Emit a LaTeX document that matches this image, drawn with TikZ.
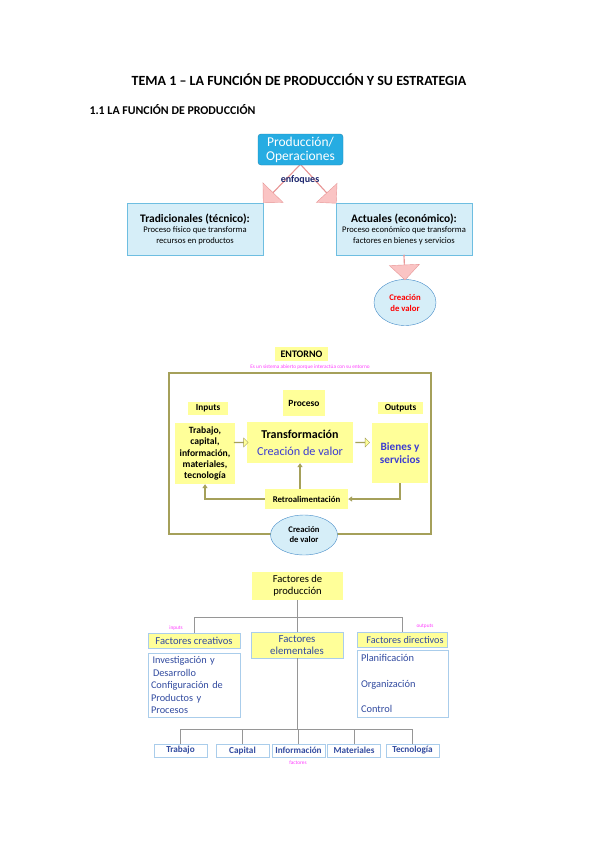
\documentclass[tikz,border=0pt]{standalone}
\usepackage{fontspec}
\setmainfont{Carlito}
\usetikzlibrary{shapes.geometric,shapes.arrows,arrows.meta}

\definecolor{prodcyan}{RGB}{38,172,226}
\definecolor{pinkfill}{RGB}{250,196,196}
\definecolor{pinkline}{RGB}{232,150,150}
\definecolor{skyfill}{RGB}{214,238,248}
\definecolor{skyline}{RGB}{110,190,225}
\definecolor{ovalline}{RGB}{70,140,200}
\definecolor{notey}{RGB}{255,255,153}
\definecolor{olive}{RGB}{165,160,90}
\definecolor{valblue}{RGB}{60,60,210}
\definecolor{navy}{RGB}{30,40,110}
\definecolor{factblue}{RGB}{50,75,160}
\definecolor{notepink}{RGB}{255,60,255}
\definecolor{treegray}{RGB}{150,150,150}
\definecolor{listline}{RGB}{170,205,235}

\pgfdeclarelayer{background}
\pgfsetlayers{background,main}

\newcommand{\fs}[2]{\fontsize{#1}{#2}\selectfont}

\begin{document}
\begin{tikzpicture}[x=1pt, y=-1pt,
    prodbox/.style={draw=prodcyan!80!black, fill=prodcyan, rounded corners=3pt, text=white,
      minimum width=85, minimum height=31, inner sep=1pt, align=center, font=\fs{13.5}{14}},
    skybox/.style={draw=skyline, fill=skyfill, minimum width=136, minimum height=52,
      inner sep=1pt, align=center, font=\fs{8.6}{10.5}},
    pinkarrow/.style={single arrow, draw=pinkline, fill=pinkfill, inner sep=0pt,
      single arrow head extend=8.5pt, minimum width=28, sloped, allow upside down},
    oval/.style={ellipse, draw=ovalline, fill=skyfill, inner sep=0pt, align=center},
    note/.style={fill=notey, inner sep=1pt, align=center},
    feed/.style={draw=olive, line width=2pt, -{Triangle[length=4pt,width=5pt]}},
    hollow/.style={single arrow, draw=olive, fill=notey, inner sep=0pt, minimum width=9,
      single arrow head extend=2.5pt, minimum height=14},
    tiny/.style={text=notepink, font=\fs{5.3}{6}},
    tree/.style={draw=treegray, line width=0.9pt},
    factor/.style={fill=notey, draw=listline, inner sep=1pt, text=factblue, align=center},
    listbox/.style={draw=listline, fill=white, inner sep=3pt, text=factblue, align=left},
    elem/.style={draw=listline, fill=white, inner sep=0pt, minimum width=53, minimum height=13,
      text=factblue, font=\bfseries\fs{9.2}{10}}]
\useasboundingbox (0,0) rectangle (599,848);
\begin{pgfonlayer}{background}
  \fill[white] (0,0) rectangle (599,848);
\end{pgfonlayer}

% headings
\node[font=\bfseries\fs{14}{16}] (title) at (299,80) {TEMA 1 – LA FUNCIÓN DE PRODUCCIÓN Y SU ESTRATEGIA};
\node[anchor=west, font=\bfseries\fs{11.9}{13}] (sec) at (86,110) {1.1 LA FUNCIÓN DE PRODUCCIÓN};

% enfoques
\node[prodbox] (prod) at (300.5,149.5) {Producción/\\Operaciones};
\node[skybox] (trad) at (195,229) {{\bfseries\fs{11.5}{14}Tradicionales (técnico):}\\Proceso físico que transforma\\recursos en productos};
\node[skybox] (act) at (404,229) {{\bfseries\fs{11.5}{14}Actuales (económico):}\\Proceso económico que transforma\\factores en bienes y servicios};
\node[oval, minimum width=62, minimum height=46, text=red, font=\bfseries\fs{8.7}{11}] (cval) at (405,302.5) {Creación\\de valor};
\begin{pgfonlayer}{background}
  \path ([xshift=2pt,yshift=3pt]prod.south) -- (trad.north east) node[pinkarrow, midway, minimum height=56] (arl) {};
  \path ([xshift=-2pt,yshift=3pt]prod.south) -- (act.north west) node[pinkarrow, midway, minimum height=56] (arr) {};
\end{pgfonlayer}
\path (act.south) -- (cval.north) node[pinkarrow, midway, minimum height=25, minimum width=30,
  single arrow head extend=8pt] (ard) {};
\node[text=navy, font=\bfseries\fs{10}{11}] (enf) at (300,180) {enfoques};

% sistema
\node[draw=olive, line width=2pt, minimum width=262, minimum height=161] (frame) at (300,453.5) {};
\node[note, minimum width=53, minimum height=14, font=\bfseries\fs{10}{11}] (entorno) at (301.5,354) {ENTORNO};
\node[tiny] (abierto) at (310,367) {Es un sistema abierto porque interactúa con su entorno};
\node[note, minimum width=42, minimum height=26, font=\bfseries\fs{9.5}{10}] (proc) at (304,403) {Proceso};
\node[note, minimum width=40, minimum height=13, font=\bfseries\fs{9.3}{10}] (inlab) at (208,408.5) {Inputs};
\node[note, minimum width=45, minimum height=12, font=\bfseries\fs{9.3}{10}] (outlab) at (400.5,408) {Outputs};
\node[note, minimum width=60, minimum height=61, inner sep=0pt, font=\bfseries\fs{9.6}{11.4}] (inp) at (205,453.5) {Trabajo,\\capital,\\información,\\materiales,\\tecnología};
\node[note, minimum width=106, minimum height=41] (trans) at (300,442.5) {{\bfseries\fs{12}{13}Transformación}\\[5pt]{\color{valblue}\fs{12.2}{13}Creación de valor}};
\node[note, minimum width=56, minimum height=60, text=valblue, font=\bfseries\fs{11.2}{13}] (outc) at (400,453) {Bienes y\\servicios};
\node[note, minimum width=83, minimum height=20, font=\bfseries\fs{8.8}{10}] (retro) at (306.5,499) {Retroalimentación};
\path (inp.east |- trans.west) -- (trans.west) node[hollow, midway, sloped] (ain) {};
\path (trans.east) -- (outc.west |- trans.east) node[hollow, midway, sloped] (aout) {};
\draw[feed] (outc.south) |- (retro.east);
\draw[feed] (retro.west) -| (inp.south);
\draw[feed] (trans.south |- retro.north) -- (trans.south);
\node[oval, minimum width=67, minimum height=40, font=\bfseries\fs{8.6}{10}] (cval2) at (304,535) {Creación\\de valor};

% factores
\node[note, minimum width=91, minimum height=28, font=\fs{10.6}{12}] (fprod) at (297.5,586) {Factores de\\producción};
\node[factor, minimum width=92, minimum height=15, font=\fs{10.6}{11}] (fcre) at (194,640.5) {Factores creativos};
\node[factor, minimum width=92, minimum height=26, font=\fs{10.8}{12.5}] (felem) at (297,645) {Factores\\elementales};
\node[factor, minimum width=90, minimum height=15, inner sep=0pt, font=\fs{10.2}{11}] (fdir) at (402,639.5) {\hspace{6pt}Factores directivos};
\node[tiny] (tin) at (176,628) {inputs};
\node[tiny] (tout) at (425,626) {outputs};
\node[tiny] (tfac) at (298,763) {factores};
\node[listbox, minimum width=92, minimum height=64, text width=86, inner sep=2.5pt, font=\fs{10.3}{12.5}] (lcre) at (194,685)
  {\hspace{1.5pt}Investigación y\\\hspace{2pt}Desarrollo\\Configuración de\\Productos y\\Procesos};
\node[listbox, minimum width=91, minimum height=67, text width=85, font=\fs{10.4}{25.5}] (ldir) at (402.5,683.5)
  {\hspace{1pt}Planificación\\\hspace{1pt}Organización\\\hspace{1pt}Control};
\node[elem] (trab) at (180.5,750.5) {Trabajo};
\node[elem] (capi) at (242.5,750.5) {Capital};
\node[elem] (info) at (298.5,750.5) {Información};
\node[elem] (mate) at (354,750.5) {Materiales};
\node[elem] (tecn) at (412.5,750.5) {Tecnología};

% arbol
\draw[tree] (fprod.south) -- ++(0,17) coordinate (t1);
\draw[tree] (fcre.north |- t1) -- (fdir.north |- t1);
\draw[tree] (fcre.north |- t1) -- (fcre.north);
\draw[tree] (fdir.north |- t1) -- (fdir.north);
\draw[tree] (felem.north |- t1) -- (felem.north);
\draw[tree] (felem.south) -- (felem.south |- 0,729) coordinate (t2);
\draw[tree] (trab.north |- t2) -- (tecn.north |- t2);
\foreach \e in {trab,capi,info,mate,tecn}
  \draw[tree] (\e.north |- t2) -- (\e.north);
\end{tikzpicture}
\end{document}
